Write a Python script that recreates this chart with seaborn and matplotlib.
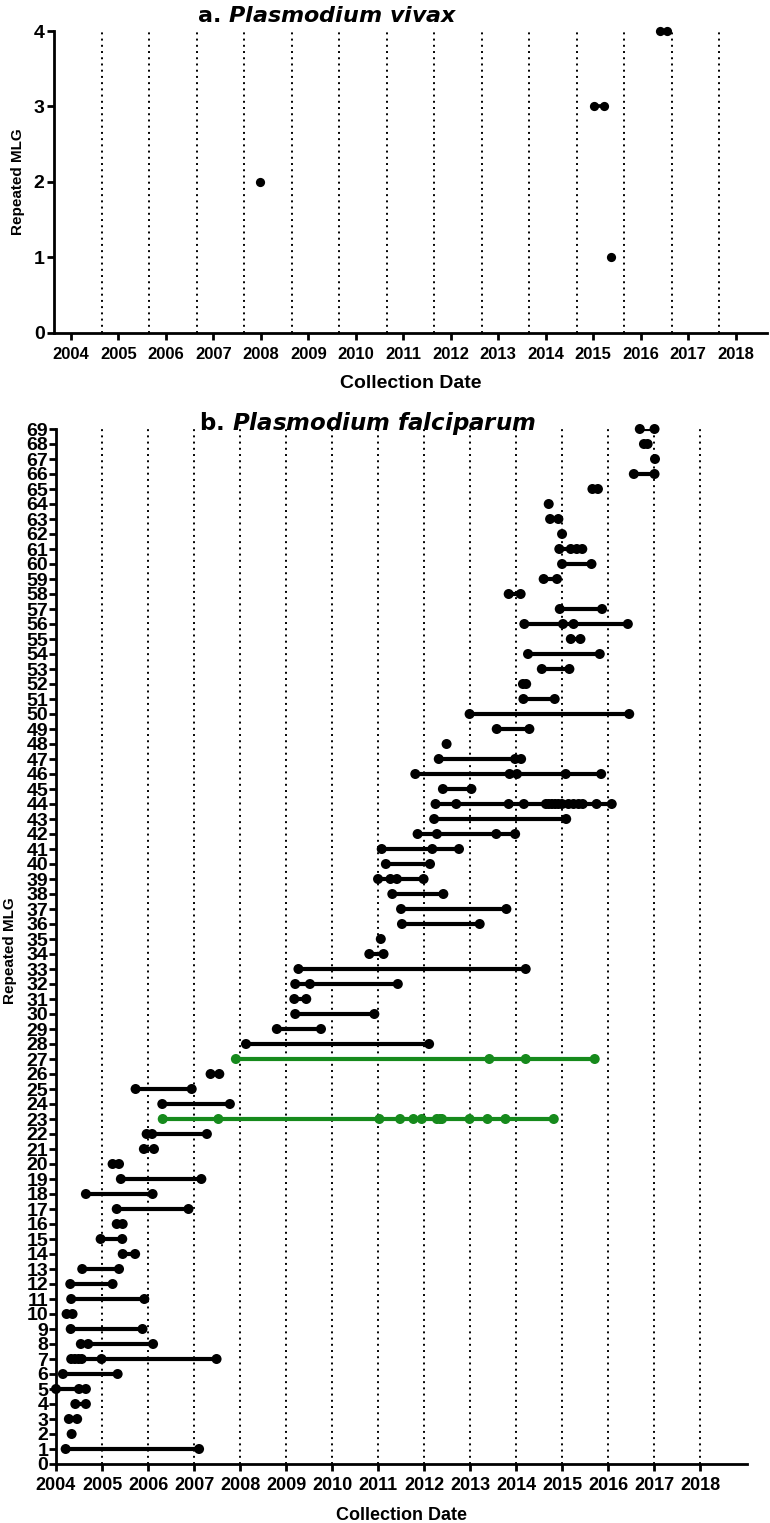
import numpy as np
import pandas as pd
import matplotlib
matplotlib.use('Agg')
import matplotlib.pyplot as plt
import seaborn as sns

# %% data (decimal years)
pv_mlg = [1, 2, 3, 4]
pv_dates = [[2015.38], [2007.99], [2015.02, 2015.22], [2016.41, 2016.56]]

pf_mlg = list(range(1, 70))
pf_dates = [
    [2004.21, 2007.11],
    [2004.34],
    [2004.28, 2004.46],
    [2004.42, 2004.65],
    [2004.0, 2004.50, 2004.65],
    [2004.15, 2005.34],
    [2004.33, 2004.41, 2004.49, 2004.56, 2004.99, 2007.49],
    [2004.54, 2004.70, 2006.11],
    [2004.32, 2005.88],
    [2004.23, 2004.36],
    [2004.33, 2005.92],
    [2004.31, 2005.23],
    [2004.57, 2005.37],
    [2005.45, 2005.72],
    [2004.97, 2005.44],
    [2005.32, 2005.45],
    [2005.32, 2006.88],
    [2004.65, 2006.10],
    [2005.41, 2007.16],
    [2005.23, 2005.37],
    [2005.91, 2006.13],
    [2005.97, 2006.09, 2007.28],
    [2006.32, 2007.53, 2011.03, 2011.48, 2011.77, 2011.95, 2012.28, 2012.35,
     2012.39, 2012.99, 2013.38, 2013.77, 2014.82],
    [2006.31, 2007.78],
    [2005.73, 2006.95],
    [2007.36, 2007.55],
    [2007.91, 2013.42, 2014.21, 2015.71],
    [2008.13, 2012.11],
    [2008.80, 2009.76],
    [2009.20, 2010.92],
    [2009.18, 2009.44],
    [2009.20, 2009.52, 2011.43],
    [2009.27, 2014.21],
    [2010.81, 2011.12],
    [2011.06],
    [2011.52, 2013.21],
    [2011.50, 2013.79],
    [2011.31, 2012.42],
    [2011.00, 2011.27, 2011.41, 2011.99],
    [2011.17, 2012.13],
    [2011.08, 2012.18, 2012.76],
    [2011.86, 2012.28, 2013.57, 2013.98],
    [2012.22, 2015.09],
    [2012.25, 2012.70, 2013.84, 2014.17, 2014.65, 2014.71, 2014.78, 2014.85,
     2014.92, 2015.00, 2015.14, 2015.25, 2015.36, 2015.45, 2015.75, 2016.08],
    [2012.41, 2013.03],
    [2011.81, 2013.86, 2014.02, 2015.08, 2015.85],
    [2012.32, 2013.98, 2014.11],
    [2012.49],
    [2013.58, 2014.29],
    [2012.99, 2016.46],
    [2014.16, 2014.84],
    [2014.15, 2014.22],
    [2014.56, 2015.16],
    [2014.26, 2015.82],
    [2015.19, 2015.40],
    [2014.18, 2015.02, 2015.25, 2016.43],
    [2014.95, 2015.87],
    [2013.84, 2014.10],
    [2014.60, 2014.89],
    [2015.00, 2015.64],
    [2014.94, 2015.19, 2015.32, 2015.44],
    [2015.00],
    [2014.74, 2014.92],
    [2014.71],
    [2015.66, 2015.78],
    [2016.56, 2017.01],
    [2017.02],
    [2016.78, 2016.86],
    [2016.69, 2017.01],
]
pf_green = [23, 27]

years = list(range(2004, 2019))


def long_df(mlgs, dates, green=()):
    rows = []
    for m, ds in zip(mlgs, dates):
        for d in ds:
            rows.append({'mlg': m, 'date': d, 'grp': 'g' if m in green else 'k'})
    return pd.DataFrame(rows)


pv = long_df(pv_mlg, pv_dates)
pf = long_df(pf_mlg, pf_dates, pf_green)
pal = {'k': 'black', 'g': '#168a1c'}

# %% style
sns.set_style('ticks')
plt.rcParams['font.family'] = ['Liberation Sans', 'DejaVu Sans']
plt.rcParams['font.weight'] = 'bold'
plt.rcParams['text.color'] = 'black'
plt.rcParams['axes.labelcolor'] = 'black'
plt.rcParams['xtick.color'] = 'black'
plt.rcParams['ytick.color'] = 'black'
plt.rcParams['mathtext.fontset'] = 'custom'
plt.rcParams['mathtext.it'] = 'DejaVu Sans:italic:bold'
plt.rcParams['mathtext.rm'] = 'DejaVu Sans:bold'

W, H = 770, 1523
fig = plt.figure(figsize=(W / 100, H / 100), dpi=100)


def px_axes(l, r, t, b):
    return fig.add_axes([l / W, 1 - b / H, (r - l) / W, (b - t) / H])


ax1 = px_axes(54.3, 767, 31, 332.7)
ax2 = px_axes(56, 747, 429, 1464)

dot = (0, (1, 2.2))

# %% a. vivax
ax1.vlines([y + 0.65 for y in years[:-1]], 0, 4, colors='black',
           linestyles=[dot], linewidth=1.4, zorder=1)
sns.lineplot(data=pv, x='date', y='mlg', units='mlg', estimator=None,
             color='black', lw=2.6, ax=ax1, zorder=2)
sns.scatterplot(data=pv, x='date', y='mlg', color='black', s=44,
                linewidth=0, ax=ax1, zorder=3, clip_on=False)
ax1.set_xlim(2003.648, 2018.66)
ax1.set_ylim(0, 4)
ax1.set_xticks(years)
ax1.set_yticks([0, 1, 2, 3, 4])
ax1.tick_params(axis='both', length=5, width=2, labelsize=12, color='black',
                labelcolor='black')
ax1.tick_params(axis='x', pad=5)
ax1.tick_params(axis='y', pad=2, labelsize=14)
ax1.set_xlabel('')
ax1.set_ylabel('')

# %% b. falciparum
ax2.vlines(years[1:], 0, 69, colors='black', linestyles=[dot],
           linewidth=1.4, zorder=1)
sns.lineplot(data=pf, x='date', y='mlg', units='mlg', estimator=None,
             hue='grp', palette=pal, lw=3, ax=ax2, legend=False, zorder=2)
sns.scatterplot(data=pf, x='date', y='mlg', hue='grp', palette=pal, s=52,
                linewidth=0, ax=ax2, legend=False, zorder=3, clip_on=False)
ax2.set_xlim(2004, 2019.02)
ax2.set_ylim(0, 69)
ax2.set_xticks(years)
ax2.set_yticks(range(0, 70))
ax2.tick_params(axis='both', length=5, width=2, color='black',
                labelcolor='black')
ax2.tick_params(axis='x', labelsize=13, pad=4)
ax2.tick_params(axis='y', labelsize=14, pad=0.5)
ax2.set_xlabel('')
ax2.set_ylabel('')

for ax in (ax1, ax2):
    sns.despine(ax=ax)
    for sp in ('left', 'bottom'):
        ax.spines[sp].set_linewidth(2)
        ax.spines[sp].set_color('black')
    for lab in ax.get_xticklabels() + ax.get_yticklabels():
        lab.set_fontweight('bold')

# %% titles and labels
title_font = ['DejaVu Sans']
fig.text(327 / W, 1 - 22 / H, r'a. $\mathit{Plasmodium\ vivax}$', ha='center',
         va='baseline', fontsize=16, fontweight='bold', family=title_font,
         color='black')
fig.text(368 / W, 1 - 430 / H, r'b. $\mathit{Plasmodium\ falciparum}$',
         ha='center', va='baseline', fontsize=16.5, fontweight='bold',
         family=title_font, color='black')
fig.text(18 / W, 1 - 182 / H, 'Repeated MLG', rotation=90, ha='center',
         va='center', fontsize=11, fontweight='bold')
fig.text(10 / W, 1 - 951 / H, 'Repeated MLG', rotation=90, ha='center',
         va='center', fontsize=11, fontweight='bold')
fig.text(411 / W, 1 - 383 / H, 'Collection Date', ha='center', va='center',
         fontsize=14, fontweight='bold')
fig.text(401 / W, 1 - 1515 / H, 'Collection Date', ha='center', va='center',
         fontsize=13, fontweight='bold')

fig.savefig('out.png', dpi=100)
